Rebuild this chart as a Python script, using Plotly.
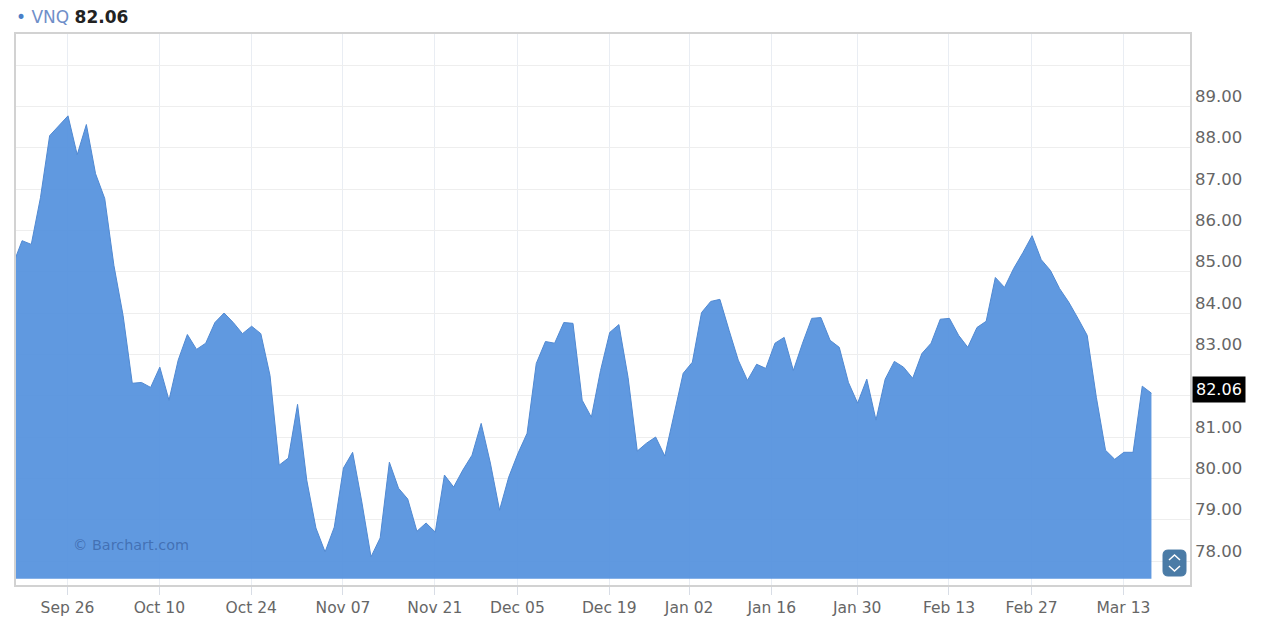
import pandas as pd
import plotly.graph_objects as go

HOLIDAYS = ["2016-11-24", "2016-12-26", "2017-01-02", "2017-01-16", "2017-02-20"]
dates = [d.strftime("%Y-%m-%d") for d in pd.bdate_range("2016-09-16", "2017-03-16")
         if d.strftime("%Y-%m-%d") not in HOLIDAYS]

vnq = [85.17, 85.75, 85.66, 86.79, 88.29, 88.53, 88.77, 87.83, 88.56, 87.37, 86.77, 85.15, 83.94,
       82.30, 82.32, 82.20, 82.69, 81.89, 82.86, 83.48, 83.12, 83.27, 83.77, 84.00, 83.77, 83.50,
       83.68, 83.50, 82.49, 80.32, 80.49, 81.79, 79.96, 78.80, 78.22, 78.82, 80.25, 80.63, 79.43,
       78.10, 78.56, 80.39, 79.76, 79.50, 78.72, 78.92, 78.70, 80.08, 79.79, 80.20, 80.56, 81.33,
       80.37, 79.23, 80.03, 80.60, 81.09, 82.78, 83.31, 83.27, 83.77, 83.75, 81.89, 81.48, 82.61,
       83.53, 83.72, 82.44, 80.66, 80.85, 81.00, 80.54, 81.57, 82.54, 82.81, 84.01, 84.28, 84.33,
       83.58, 82.86, 82.37, 82.76, 82.66, 83.27, 83.41, 82.61, 83.27, 83.87, 83.89, 83.34, 83.17,
       82.32, 81.82, 82.40, 81.41, 82.40, 82.83, 82.69, 82.42, 83.02, 83.27, 83.85, 83.87, 83.46,
       83.17, 83.65, 83.80, 84.86, 84.62, 85.08, 85.46, 85.87, 85.29, 85.03, 84.59, 84.26, 83.87,
       83.46, 81.96, 80.68, 80.46, 80.63, 80.63, 82.23, 82.06]
assert len(vnq) == len(dates), (len(vnq), len(dates))

base_value = 77.57
tick_dates = ["2016-09-26", "2016-10-10", "2016-10-24", "2016-11-07", "2016-11-21", "2016-12-05",
              "2016-12-19", "2017-01-02", "2017-01-16", "2017-01-30", "2017-02-13", "2017-02-27",
              "2017-03-13"]
tick_labels = ["Sep 26", "Oct 10", "Oct 24", "Nov 07", "Nov 21", "Dec 05", "Dec 19", "Jan 02",
               "Jan 16", "Jan 30", "Feb 13", "Feb 27", "Mar 13"]
price_ticks = [78, 79, 80, 81, 82, 83, 84, 85, 86, 87, 88, 89, 90]
# 82.00 sits behind the black last-price box and 90.00 is not labelled in the reference
price_labels = ["" if v in (82, 90) else f"{v:.2f}" for v in price_ticks]

W, H = 1272, 622
L, R, T, B = 16, 1190, 33.5, 585


def tick_pos(d):
    if d in dates:
        return dates.index(d) - 0.05
    nxt = next(x for x in dates if x > d)
    return dates.index(nxt) - 0.35


def px(x):
    return (x - L) / (R - L)


def py(y):
    return (B - y) / (B - T)


fig = go.Figure()
fig.add_trace(go.Scatter(x=dates, y=[base_value] * len(dates), mode="lines",
                         line=dict(width=0), hoverinfo="skip", showlegend=False))
fig.add_trace(go.Scatter(x=dates, y=vnq, mode="lines", name="VNQ", fill="tonexty",
                         fillcolor="rgba(84,145,222,0.93)",
                         line=dict(color="#5089d2", width=1), showlegend=False))

axis_line = "#d2d2d2"
fig.update_xaxes(type="category", range=[0.336, 128.2], tickmode="array", automargin=False,
                 tickvals=[tick_pos(d) for d in tick_dates], ticktext=tick_labels,
                 showgrid=True, gridcolor="#e9edf3", gridwidth=1,
                 showline=True, mirror=True, linecolor=axis_line, linewidth=1.5,
                 ticks="outside", ticklen=8, tickcolor="#d8dde6", tickwidth=1,
                 tickfont=dict(family="DejaVu Sans", size=15.5, color="#666666"),
                 zeroline=False)
fig.update_yaxes(side="right", range=[77.42, 90.75], tickmode="array", automargin=False,
                 tickvals=price_ticks, ticktext=price_labels,
                 showgrid=True, gridcolor="#eeeeee", gridwidth=1,
                 showline=True, mirror=True, linecolor=axis_line, linewidth=1.5,
                 ticks="", ticklabelshift=-10, ticklabelstandoff=0,
                 tickfont=dict(family="DejaVu Sans", size=16.5, color="#666666"),
                 zeroline=False)

fig.add_annotation(xref="paper", yref="paper", x=px(14), y=py(16), xanchor="left", yanchor="middle",
                   showarrow=False, align="left",
                   text="<span style='color:#4a7fc8'>•</span> <span style='color:#6f8fc9'>VNQ</span> "
                        "<b><span style='color:#222222'>82.06</span></b>",
                   font=dict(family="DejaVu Sans", size=17))
fig.add_annotation(xref="paper", yref="y", x=px(1192), y=82.06, yshift=4, xanchor="left",
                   yanchor="middle", showarrow=False, text="82.06", bgcolor="#000000",
                   borderpad=3, font=dict(family="DejaVu Sans", size=16, color="#ffffff"))
fig.add_annotation(xref="paper", yref="paper", x=px(71), y=py(545), xanchor="left", yanchor="middle",
                   showarrow=False, text="© Barchart.com",
                   font=dict(family="DejaVu Sans", size=14.4, color="rgba(55,95,160,0.7)"))

# scroll button in the lower right corner
x0, x1, y0, y1, r = 1163, 1186, 550, 576, 5
button = (f"M{px(x0+r)},{py(y0)} L{px(x1-r)},{py(y0)} Q{px(x1)},{py(y0)} {px(x1)},{py(y0+r)} "
          f"L{px(x1)},{py(y1-r)} Q{px(x1)},{py(y1)} {px(x1-r)},{py(y1)} L{px(x0+r)},{py(y1)} "
          f"Q{px(x0)},{py(y1)} {px(x0)},{py(y1-r)} L{px(x0)},{py(y0+r)} Q{px(x0)},{py(y0)} {px(x0+r)},{py(y0)} Z")
fig.add_shape(type="path", xref="paper", yref="paper", path=button,
              fillcolor="#4a7ba6", line=dict(color="#4a7ba6", width=1))
for pts in ([(1169, 560), (1174.5, 555), (1180, 560)], [(1169, 566), (1174.5, 571), (1180, 566)]):
    path = "M" + " L".join(f"{px(a)},{py(b)}" for a, b in pts)
    fig.add_shape(type="path", xref="paper", yref="paper", path=path,
                  line=dict(color="#ffffff", width=1.5))

fig.update_layout(width=W, height=H, autosize=False, paper_bgcolor="#ffffff", plot_bgcolor="#ffffff",
                  margin=dict(l=L, r=W - R, t=T, b=H - B), showlegend=False, hovermode="x")

fig.write_html("out.html", config={"displayModeBar": False},
               post_script="document.body.style.margin='0';document.documentElement.style.overflow='hidden';")
